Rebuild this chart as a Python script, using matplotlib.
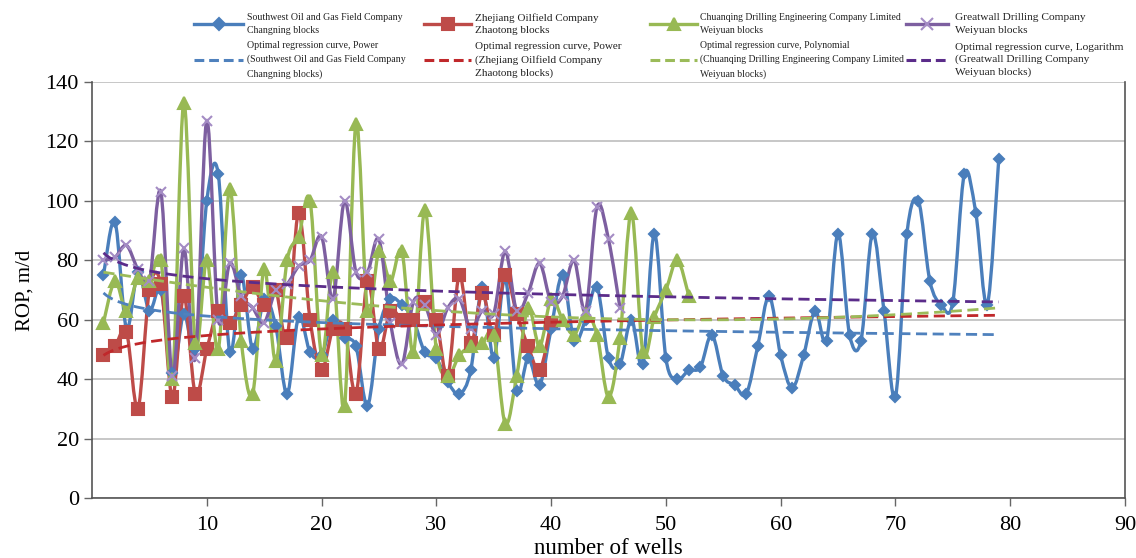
import numpy as np
import matplotlib
matplotlib.use("Agg")
import matplotlib.pyplot as plt
from matplotlib.path import Path
from matplotlib.patches import PathPatch
from matplotlib.lines import Line2D

plt.rcParams['font.family'] = ['Liberation Serif', 'DejaVu Serif']

# ---------------- data ----------------
blue_vals = [75, 93, 57, 76, 63, 70, 42, 62, 50, 100,
             109, 49, 75, 50, 67, 58, 35, 61, 49, 48,
             60, 54, 51, 31, 57, 67, 65, 60, 49, 47,
             39, 35, 43, 71, 47, 74, 36, 47, 38, 57,
             75, 53, 60, 71, 47, 45, 60, 45, 89, 47,
             40, 43, 44, 55, 41, 38, 35, 51, 68, 48,
             37, 48, 63, 53, 89, 55, 53, 89, 63, 34,
             89, 100, 73, 65, 66, 109, 96, 65, 114]
red_vals = [48, 51, 56, 30, 70, 72, 34, 68, 35, 50,
            63, 59, 65, 71, 65, 70, 54, 96, 60, 43,
            57, 57, 35, 73, 50, 63, 60, 60, 66, 60,
            41, 75, 52, 69, 55, 75, 62, 51, 43, 59]
green_vals = [59, 73, 63, 74, 73, 80, 40, 133, 52, 80,
              50, 104, 53, 35, 77, 46, 80, 88, 100, 48,
              76, 31, 126, 63, 83, 73, 83, 49, 97, 50,
              41, 48, 51, 52, 55, 25, 41, 64, 51, 67,
              60, 55, 62, 55, 34, 54, 96, 49, 61, 70,
              80, 68]
purple_vals = [80, 81, 85, 77, 73, 103, 41, 84, 47, 127,
               60, 79, 68, 64, 59, 70, 72, 78, 80, 88,
               67, 100, 76, 76, 87, 59, 45, 66, 65, 55,
               64, 67, 57, 63, 62, 83, 63, 69, 79, 66,
               68, 80, 63, 98, 87, 64]

# regression curves (coefficients)
trend_range = [1, 79]
blue_power = [69.0, -0.052]              # y = a * x^b
red_power = [48.0, 0.0567]               # y = a * x^b
green_poly = [0.005955, -0.6302, 76.62]  # quadratic
purple_log = [82.5, -3.78]               # y = a + b ln x

labels_series = ["Southwest Oil and Gas Field Company\nChangning blocks",
                 "Zhejiang Oilfield Company\nZhaotong blocks",
                 "Chuanqing Drilling Engineering Company Limited\nWeiyuan blocks",
                 "Greatwall Drilling Company\nWeiyuan blocks"]
labels_trend = ["Optimal regression curve, Power\n(Southwest Oil and Gas Field Company\nChangning blocks)",
                "Optimal regression curve, Power\n(Zhejiang Oilfield Company\nZhaotong blocks)",
                "Optimal regression curve, Polynomial\n(Chuanqing Drilling Engineering Company Limited\nWeiyuan blocks)",
                "Optimal regression curve, Logarithm\n(Greatwall Drilling Company\nWeiyuan blocks)"]

x_ticks = [10, 20, 30, 40, 50, 60, 70, 80, 90]
y_ticks = [0, 20, 40, 60, 80, 100, 120, 140]

# ---------------- style ----------------
c_blue = '#4A7EBB'
c_red = '#BE4B48'
c_green = '#98B954'
c_purple = '#7D5FA0'
c_purple_marker = '#A48CC4'
c_blue_tr = '#4F81BD'
c_red_tr = '#C0282B'
c_green_tr = '#9BBB59'
c_purple_tr = '#5B2C8A'

W, H = 1136, 558


def smooth_path(x, y, t=1.0 / 6):
    pts = np.column_stack([x, y]).astype(float)
    n = len(pts)
    verts = [pts[0]]
    codes = [Path.MOVETO]
    for i in range(n - 1):
        p0 = pts[max(i - 1, 0)]
        p1 = pts[i]
        p2 = pts[i + 1]
        p3 = pts[min(i + 2, n - 1)]
        c1 = p1 + (p2 - p0) * t
        c2 = p2 - (p3 - p1) * t
        verts += [c1, c2, p2]
        codes += [Path.CURVE4] * 3
    return Path(np.array(verts), codes)


fig = plt.figure(figsize=(W / 100, H / 100), dpi=100)
ax = fig.add_axes([92 / W, 1 - 498 / H, (1125 - 92) / W, (498 - 82) / H])

series = [
    (blue_vals, c_blue, 'D', 5.5, c_blue),
    (red_vals, c_red, 's', 8, c_red),
    (green_vals, c_green, '^', 8, c_green),
    (purple_vals, c_purple, 'x', 7, c_purple_marker),
]

for vals, col, mk, ms, mcol in series:
    xs = np.arange(1, len(vals) + 1)
    patch = PathPatch(smooth_path(xs, vals), facecolor='none', edgecolor=col,
                      lw=2.4, zorder=3, capstyle='round', joinstyle='round')
    ax.add_patch(patch)
    ax.plot(xs, vals, linestyle='none', marker=mk, ms=ms, color=mcol,
            markeredgecolor=mcol, mew=1.5, zorder=4)

xt = np.linspace(trend_range[0], trend_range[1], 300)
trend_specs = [
    (blue_power[0] * xt ** blue_power[1], c_blue_tr),
    (red_power[0] * xt ** red_power[1], c_red_tr),
    (np.polyval(green_poly, xt), c_green_tr),
    (purple_log[0] + purple_log[1] * np.log(xt), c_purple_tr),
]
for yt, col in trend_specs:
    ax.plot(xt, yt, color=col, lw=2.0, dashes=(4, 2), zorder=5)

ax.set_xlim(0, 90)
ax.set_ylim(0, 140)
ax.set_xticks(x_ticks)
ax.set_yticks(y_ticks)
ax.tick_params(axis='both', labelsize=16, direction='out', length=6,
               color='#666666', width=1)
ax.tick_params(axis='x', pad=7)
ax.grid(axis='y', color='#BDBDBD', lw=1.2)
ax.set_axisbelow(True)
for s in ['left', 'bottom', 'right']:
    ax.spines[s].set_color('#555555')
    ax.spines[s].set_linewidth(1.2)
ax.spines['top'].set_visible(False)
ax.set_xlabel('number of wells', fontsize=16.5, labelpad=2)
ax.set_ylabel('ROP, m/d', fontsize=15, labelpad=8)

# ---------------- legend (drawn manually in figure pixels) ----------------
cols = [  # handle x0, handle x1, text x, fontsize
    (194, 243, 247, 7.1),
    (424, 471, 475, 8.0),
    (650, 697, 700, 7.0),
    (906, 948, 955, 8.2),
]
row_y = [24, 60]
series_markers = [('D', 6, c_blue), ('s', 9, c_red), ('^', 8, c_green),
                  ('x', 8, c_purple_marker)]
series_cols = [c_blue, c_red, c_green, c_purple]
trend_cols = [c_blue_tr, c_red_tr, c_green_tr, c_purple_tr]

for i, (hx0, hx1, tx, fs) in enumerate(cols):
    for r in range(2):
        yy = 1 - row_y[r] / H
        if r == 0:
            mk, ms, mc = series_markers[i]
            fig.add_artist(Line2D([hx0 / W, hx1 / W], [yy, yy],
                                  transform=fig.transFigure,
                                  color=series_cols[i], lw=2.4))
            fig.add_artist(Line2D([(hx0 + hx1) / 2 / W], [yy],
                                  transform=fig.transFigure, marker=mk,
                                  ms=ms, color=mc, mew=1.5, linestyle='none'))
            lab = labels_series[i]
        else:
            fig.add_artist(Line2D([hx0 / W, hx1 / W], [yy, yy],
                                  transform=fig.transFigure,
                                  color=trend_cols[i], lw=2.2, dashes=(3.2, 1.6)))
            lab = labels_trend[i]
        fig.text(tx / W, yy, lab, fontsize=fs, va='center', ha='left',
                 color='#222222', linespacing=1.62 if fs < 7.5 else 1.45)

fig.savefig('out.png', dpi=100)
